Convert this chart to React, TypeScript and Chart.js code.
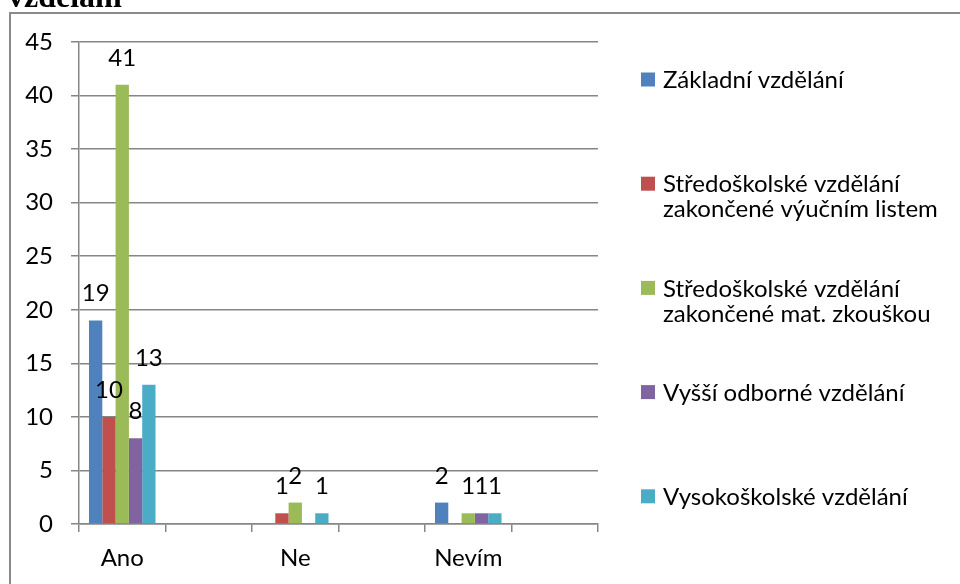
import React, { useEffect, useRef } from 'react';
import { Chart, registerables } from 'chart.js';

Chart.register(...registerables);

// ---- data ----
const categories = ['Ano', 'Ne', 'Nevím'];
const seriesNames = [
  'Základní vzdělání',
  'Středoškolské vzdělání zakončené výučním listem',
  'Středoškolské vzdělání zakončené mat. zkouškou',
  'Vyšší odborné vzdělání',
  'Vysokoškolské vzdělání',
];
const zakladni = [19, 0, 2];
const vyucniList = [10, 1, 0];
const maturita = [41, 2, 1];
const vyssiOdborne = [8, 0, 1];
const vysokoskolske = [13, 1, 1];
const seriesValues = [zakladni, vyucniList, maturita, vyssiOdborne, vysokoskolske];
const seriesColors = ['#4F81BD', '#C0504D', '#9BBB59', '#8064A2', '#4BACC6'];
const yMin = 0;
const yMax = 45;
const yStep = 5;
const titleText = 'vzdělání';

// ---- style ----
const FONT = 'Lato, "Open Sans", sans-serif';
const FONT_SIZE = 24;
const GRID = '#868686';

function wrapText(ctx: CanvasRenderingContext2D, text: string, maxW: number): string[] {
  const words = text.split(' ');
  const lines: string[] = [];
  let cur = '';
  for (const w of words) {
    const t = cur ? cur + ' ' + w : w;
    if (ctx.measureText(t).width > maxW && cur) {
      lines.push(cur);
      cur = w;
    } else cur = t;
  }
  if (cur) lines.push(cur);
  return lines;
}

const decorPlugin = {
  id: 'decor',
  beforeDraw(chart: any) {
    const ctx: CanvasRenderingContext2D = chart.ctx;
    ctx.save();
    ctx.fillStyle = '#ffffff';
    ctx.fillRect(0, 0, chart.width, chart.height);
    ctx.strokeStyle = '#8a8a8a';
    ctx.lineWidth = 2;
    ctx.strokeRect(10, 13, chart.width + 40, chart.height + 40);
    ctx.font = 'bold 32px "Liberation Serif", "Times New Roman", serif';
    ctx.fillStyle = '#000';
    ctx.textBaseline = 'alphabetic';
    ctx.textAlign = 'left';
    ctx.fillText(titleText, 8, 7);
    ctx.restore();
  },
  afterDatasetsDraw(chart: any) {
    const ctx: CanvasRenderingContext2D = chart.ctx;
    ctx.save();
    ctx.font = `${FONT_SIZE}px ${FONT}`;
    ctx.fillStyle = '#000';
    ctx.textAlign = 'center';
    ctx.textBaseline = 'alphabetic';
    chart.data.datasets.forEach((ds: any, i: number) => {
      const meta = chart.getDatasetMeta(i);
      meta.data.forEach((el: any, j: number) => {
        const v = ds.data[j];
        if (v === null || v === undefined || v === 0) return;
        ctx.fillText(String(v), el.x, el.y - 19);
      });
    });
    ctx.restore();
  },
  afterDraw(chart: any) {
    const ctx: CanvasRenderingContext2D = chart.ctx;
    ctx.save();
    ctx.font = `${FONT_SIZE}px ${FONT}`;
    ctx.textAlign = 'left';
    ctx.textBaseline = 'middle';
    const sqX = 641;
    const textX = 663;
    const firstY = 79.5;
    const stepY = 104.2;
    const lineH = 25;
    chart.data.datasets.forEach((ds: any, i: number) => {
      const cy = firstY + i * stepY;
      ctx.fillStyle = ds.backgroundColor;
      ctx.fillRect(sqX, cy - 7, 14, 14);
      ctx.fillStyle = '#000';
      const lines = wrapText(ctx, ds.label, chart.width - textX - 2);
      lines.forEach((ln, k) => ctx.fillText(ln, textX, cy + 1 + k * lineH));
    });
    ctx.restore();
  },
};

export default function App() {
  const ref = useRef<HTMLCanvasElement | null>(null);
  useEffect(() => {
    if (!ref.current) return;
    const labels = categories.flatMap((c) => [c, '']);
    const datasets = seriesNames.map((name, i) => ({
      label: name,
      data: seriesValues[i].flatMap((v) => [v, null]),
      backgroundColor: seriesColors[i],
      borderWidth: 0,
      barPercentage: 1,
      categoryPercentage: 5 / 6.5,
    }));
    const chart = new Chart(ref.current, {
      type: 'bar',
      data: { labels, datasets },
      options: {
        animation: false,
        responsive: false,
        maintainAspectRatio: false,
        layout: { padding: { top: 42, left: 0, right: 362, bottom: 0 } },
        plugins: {
          legend: { display: false },
          tooltip: { enabled: false },
          title: { display: false },
        },
        scales: {
          x: {
            afterFit: (s: any) => { s.height = 60; },
            grid: {
              offset: true,
              drawOnChartArea: false,
              drawTicks: true,
              tickLength: 8,
              color: GRID,
              lineWidth: 1.5,
            },
            border: { color: GRID, width: 1.5 },
            ticks: {
              color: '#000',
              font: { family: FONT, size: FONT_SIZE },
              padding: 12,
              autoSkip: false,
              maxRotation: 0,
            },
          },
          y: {
            min: yMin,
            max: yMax,
            afterFit: (s: any) => { s.width = 79; },
            grid: { color: GRID, lineWidth: 1.5, tickLength: 8 },
            border: { color: GRID, width: 1.5 },
            ticks: {
              stepSize: yStep,
              color: '#000',
              font: { family: FONT, size: FONT_SIZE },
              padding: 18,
            },
          },
        },
      },
      plugins: [decorPlugin],
    });
    return () => chart.destroy();
  }, []);
  return (
    <div style={{ position: 'absolute', left: 0, top: 0, width: 960, height: 584 }}>
      <canvas ref={ref} width={960} height={584} style={{ display: 'block', width: 960, height: 584 }} />
    </div>
  );
}
